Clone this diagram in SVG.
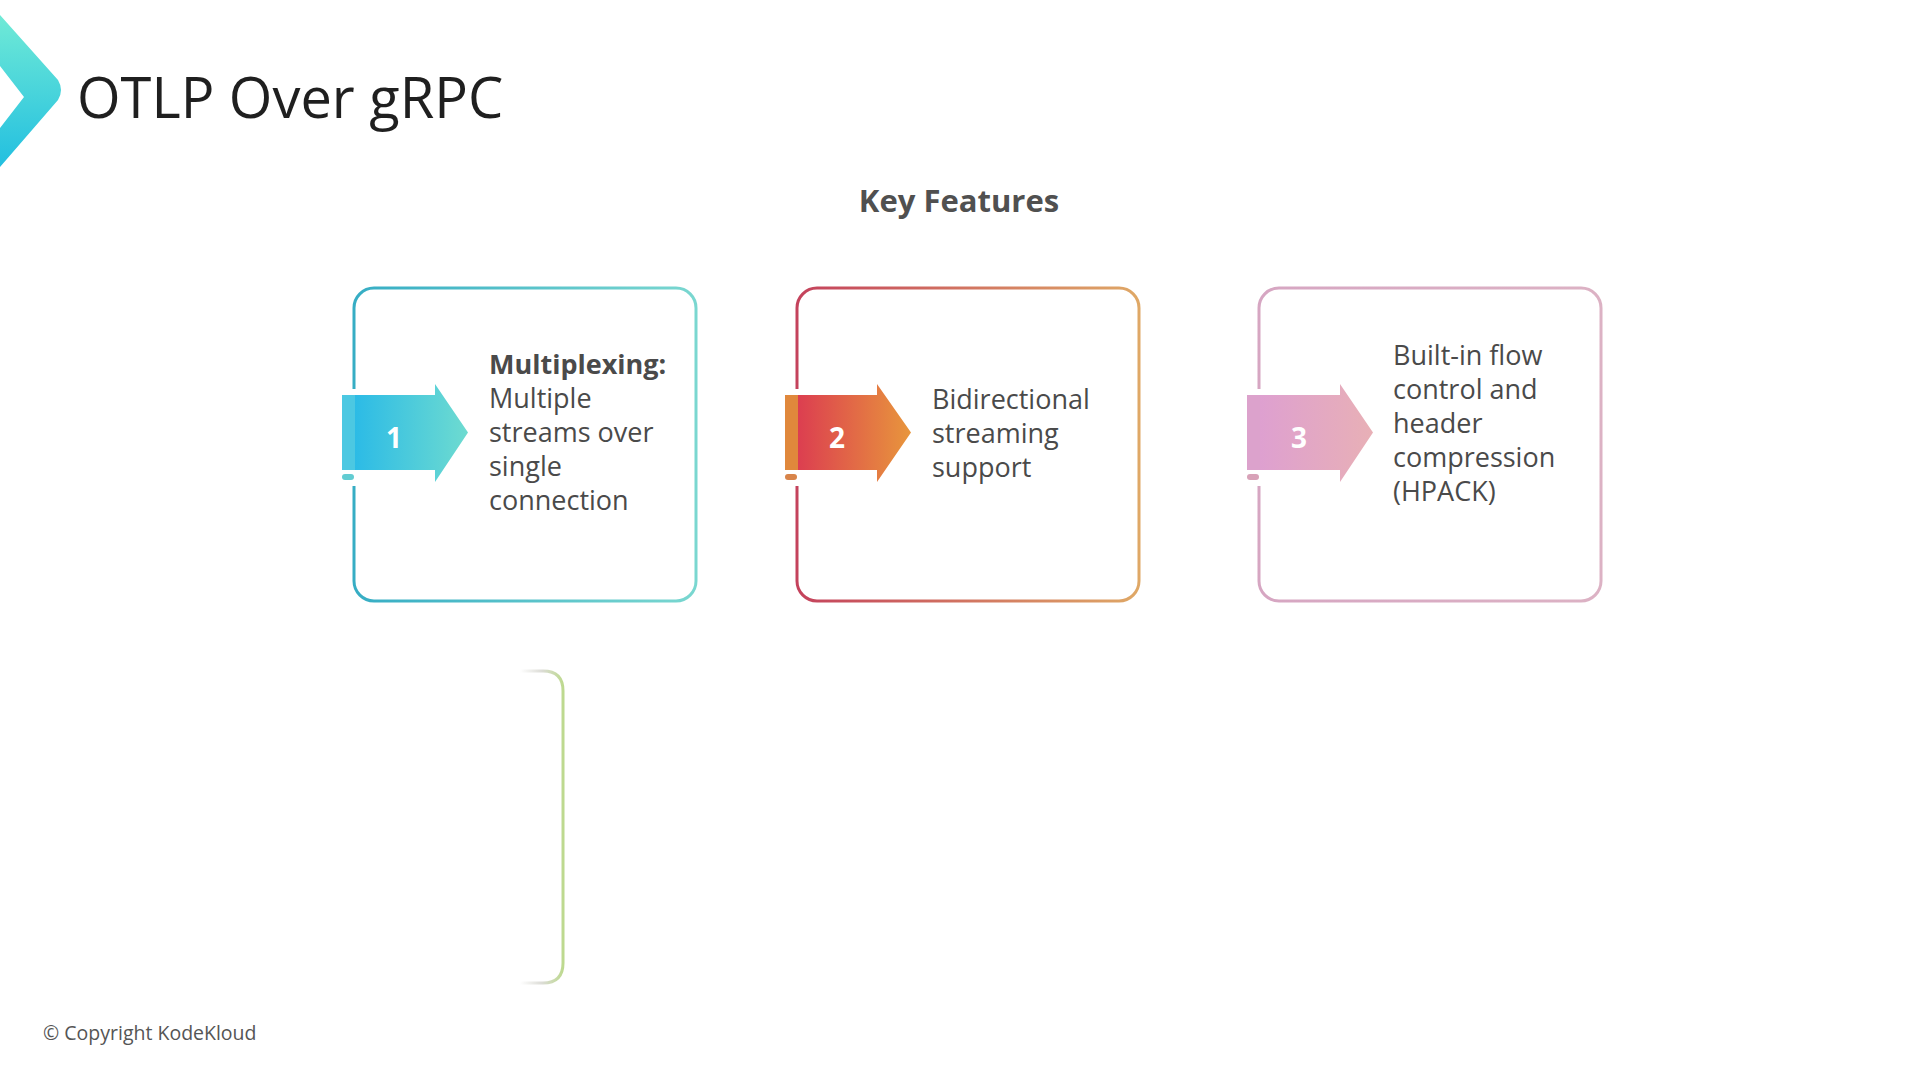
<svg xmlns="http://www.w3.org/2000/svg" width="1920" height="1080" viewBox="0 0 1920 1080">
  <defs>
    <style>
      .title { font-family: "Open Sans", "Liberation Sans", sans-serif; font-size: 56px; fill: #1f1f1f; }
      .heading { font-family: "Open Sans", "Liberation Sans", sans-serif; font-size: 31px; font-weight: 700; fill: #505050; }
      .body { font-family: "Open Sans", "Liberation Sans", sans-serif; font-size: 27px; fill: #4a4a4a; }
      .bold { font-weight: 700; }
      .num { font-family: "Open Sans", "Liberation Sans", sans-serif; font-size: 28px; font-weight: 700; fill: #ffffff; text-anchor: middle; }
      .copy { font-family: "Open Sans", "Liberation Sans", sans-serif; font-size: 19.5px; fill: #555555; }
      .card { fill: none; stroke-width: 3; }
    </style>
    <linearGradient id="logoGrad" x1="0" y1="0" x2="0" y2="1">
      <stop offset="0" stop-color="#70ead6"/>
      <stop offset="1" stop-color="#22bfe0"/>
    </linearGradient>
    <linearGradient id="card1Grad" x1="0" y1="0" x2="1" y2="0">
      <stop offset="0" stop-color="#36adc4"/>
      <stop offset="1" stop-color="#7ad7d0"/>
    </linearGradient>
    <linearGradient id="card2Grad" x1="0" y1="0" x2="1" y2="0">
      <stop offset="0" stop-color="#c4425c"/>
      <stop offset="1" stop-color="#dfa866"/>
    </linearGradient>
    <linearGradient id="card3Grad" x1="0" y1="0" x2="1" y2="0">
      <stop offset="0" stop-color="#d6a6c2"/>
      <stop offset="1" stop-color="#dcb2c4"/>
    </linearGradient>
    <linearGradient id="arrow1Grad" x1="0" y1="0" x2="1" y2="0">
      <stop offset="0" stop-color="#2cbbe6"/>
      <stop offset="1" stop-color="#6edbd0"/>
    </linearGradient>
    <linearGradient id="arrow2Grad" x1="0" y1="0" x2="1" y2="0">
      <stop offset="0" stop-color="#dc3e50"/>
      <stop offset="1" stop-color="#e8963c"/>
    </linearGradient>
    <linearGradient id="arrow3Grad" x1="0" y1="0" x2="1" y2="0">
      <stop offset="0" stop-color="#dea0d0"/>
      <stop offset="1" stop-color="#e8b0b6"/>
    </linearGradient>
    <linearGradient id="bracketGrad" gradientUnits="userSpaceOnUse" x1="520" y1="0" x2="564" y2="0">
      <stop offset="0" stop-color="#ffffff"/>
      <stop offset="0.5" stop-color="#dcdcd6"/>
      <stop offset="1" stop-color="#bcd98c"/>
    </linearGradient>
  </defs>

  <rect x="0" y="0" width="1920" height="1080" fill="#ffffff"/>

  <g id="logo">
    <path d="M0,15 L58,80 Q64,90 58,100 L0,167 L0,128 L24,97 L0,66 Z" fill="url(#logoGrad)"/>
  </g>

  <g id="title">
    <text class="title" x="77" y="118">OTLP Over gRPC</text>
  </g>

  <g id="heading">
    <text class="heading" x="959" y="212" text-anchor="middle">Key Features</text>
  </g>

  <g id="feature-1">
    <rect class="card" x="354" y="288" width="342" height="313" rx="20" stroke="url(#card1Grad)"/>
    <rect x="337" y="389" width="24" height="97" fill="#ffffff"/>
    <polygon points="355,395 435,395 435,384 468,432.5 435,482 435,470 355,470" fill="url(#arrow1Grad)"/>
    <rect x="342" y="395" width="13" height="75" fill="#4cc8e2"/>
    <rect x="342" y="474" width="12" height="6" rx="3" fill="#62ccd2"/>
    <text class="num" x="394" y="448">1</text>
    <text class="body">
      <tspan class="bold" x="489" y="374">Multiplexing:</tspan>
      <tspan x="489" y="408">Multiple</tspan>
      <tspan x="489" y="442">streams over</tspan>
      <tspan x="489" y="476">single</tspan>
      <tspan x="489" y="510">connection</tspan>
    </text>
  </g>

  <g id="feature-2">
    <rect class="card" x="797" y="288" width="342" height="313" rx="20" stroke="url(#card2Grad)"/>
    <rect x="780" y="389" width="24" height="97" fill="#ffffff"/>
    <polygon points="798,395 877,395 877,384 911,432.5 877,482 877,470 798,470" fill="url(#arrow2Grad)"/>
    <rect x="785" y="395" width="13" height="75" fill="#e0883c"/>
    <rect x="785" y="474" width="12" height="6" rx="3" fill="#d8844a"/>
    <text class="num" x="837" y="448">2</text>
    <text class="body">
      <tspan x="932" y="409">Bidirectional</tspan>
      <tspan x="932" y="443">streaming</tspan>
      <tspan x="932" y="477">support</tspan>
    </text>
  </g>

  <g id="feature-3">
    <rect class="card" x="1259" y="288" width="342" height="313" rx="20" stroke="url(#card3Grad)"/>
    <rect x="1242" y="389" width="24" height="97" fill="#ffffff"/>
    <polygon points="1260,395 1340,395 1340,384 1373,432.5 1340,482 1340,470 1260,470" fill="url(#arrow3Grad)"/>
    <rect x="1247" y="395" width="13" height="75" fill="#dca2cc"/>
    <rect x="1247" y="474" width="12" height="6" rx="3" fill="#d8a2b8"/>
    <text class="num" x="1299" y="448">3</text>
    <text class="body">
      <tspan x="1393" y="365">Built-in flow</tspan>
      <tspan x="1393" y="399">control and</tspan>
      <tspan x="1393" y="433">header</tspan>
      <tspan x="1393" y="467">compression</tspan>
      <tspan x="1393" y="501">(HPACK)</tspan>
    </text>
  </g>

  <g id="feature-4-partial">
    <path d="M520,671 L543,671 Q563,671 563,691 L563,963 Q563,983 543,983 L520,983" fill="none" stroke="url(#bracketGrad)" stroke-width="3"/>
  </g>

  <g id="connectors"></g>

  <g id="footer">
    <text class="copy" x="43" y="1040">© Copyright KodeKloud</text>
  </g>
</svg>
